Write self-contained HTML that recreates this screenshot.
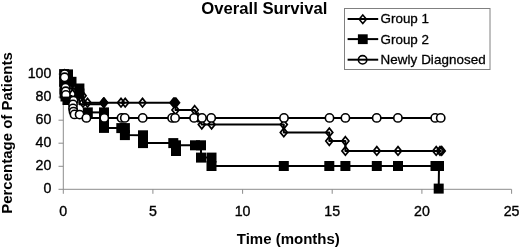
<!DOCTYPE html>
<html><head><meta charset="utf-8"><style>
html,body{margin:0;padding:0;background:#fff;width:520px;height:248px;overflow:hidden}
svg{display:block;will-change:transform}
</style></head><body>
<svg width="520" height="248" viewBox="0 0 520 248">
<g stroke="#8c8c8c" stroke-width="1" fill="none">
<path d="M63.3 74V189.3M58.5 189.3H511.5"/>
<path d="M58.5 74.1H63.3"/>
<path d="M58.5 97.1H63.3"/>
<path d="M58.5 120.2H63.3"/>
<path d="M58.5 143.2H63.3"/>
<path d="M58.5 166.3H63.3"/>
<path d="M63.3 189.3V193.8"/>
<path d="M152.9 189.3V193.8"/>
<path d="M242.6 189.3V193.8"/>
<path d="M332.2 189.3V193.8"/>
<path d="M421.9 189.3V193.8"/>
<path d="M511.6 189.3V193.8"/>
</g>
<g font-family="Liberation Sans, sans-serif" fill="#000">
<text x="264.3" y="13.9" font-size="16.7" font-weight="bold" text-anchor="middle">Overall Survival</text>
<text x="51.4" y="78.2" font-size="14.2" text-anchor="end" stroke="#000" stroke-width="0.35">100</text>
<text x="51.4" y="101.2" font-size="14.2" text-anchor="end" stroke="#000" stroke-width="0.35">80</text>
<text x="51.4" y="124.3" font-size="14.2" text-anchor="end" stroke="#000" stroke-width="0.35">60</text>
<text x="51.4" y="147.3" font-size="14.2" text-anchor="end" stroke="#000" stroke-width="0.35">40</text>
<text x="51.4" y="170.4" font-size="14.2" text-anchor="end" stroke="#000" stroke-width="0.35">20</text>
<text x="51.4" y="193.4" font-size="14.2" text-anchor="end" stroke="#000" stroke-width="0.35">0</text>
<text x="63.3" y="215.6" font-size="14.2" text-anchor="middle" stroke="#000" stroke-width="0.35">0</text>
<text x="152.9" y="215.6" font-size="14.2" text-anchor="middle" stroke="#000" stroke-width="0.35">5</text>
<text x="242.6" y="215.6" font-size="14.2" text-anchor="middle" stroke="#000" stroke-width="0.35">10</text>
<text x="332.2" y="215.6" font-size="14.2" text-anchor="middle" stroke="#000" stroke-width="0.35">15</text>
<text x="421.9" y="215.6" font-size="14.2" text-anchor="middle" stroke="#000" stroke-width="0.35">20</text>
<text x="511.6" y="215.6" font-size="14.2" text-anchor="middle" stroke="#000" stroke-width="0.35">25</text>
<text x="288.3" y="244.3" font-size="15" font-weight="bold" text-anchor="middle">Time (months)</text>
<text transform="translate(12.2 133.0) rotate(-90)" font-size="15" font-weight="bold" text-anchor="middle">Percentage of Patients</text>
</g>
<g fill="none" stroke="#000" stroke-width="2" stroke-linejoin="round">
<polyline points="64.5,74.1 64.8,81.3 68.0,81.3 70.0,88.5 75.0,88.5 78.0,95.7 82.6,95.7 83.0,102.7 87.5,102.7 103.4,102.7 104.2,102.7 121.0,102.7 125.2,102.7 142.5,102.7 173.5,102.7 175.0,102.7 176.0,102.7 175.5,110.0 194.7,110.0 198.0,117.3 201.8,124.6 211.6,124.6 283.8,124.6 283.8,132.4 329.3,132.4 329.3,141.0 345.4,141.0 345.4,150.9 376.8,150.9 398.0,150.9 436.2,150.9 440.0,150.9 441.7,150.9"/>
<polyline points="64.7,74.1 64.6,77.3 65.5,87.7 65.7,91.3 65.9,94.9 73.5,100.6 73.0,104.4 73.0,108.4 73.5,111.6 74.5,114.4 79.6,114.6 86.4,117.9 104.3,117.9 121.5,117.9 124.8,117.9 142.7,117.9 172.1,117.9 175.1,117.9 194.1,117.9 202.0,117.9 211.2,117.9 284.0,117.9 329.5,117.9 345.4,117.9 376.7,117.9 397.9,117.9 435.2,117.9 440.7,117.9"/>
<polyline points="64.1,74.1 68.0,74.4 64.1,81.8 64.5,89.5 64.6,93.5 71.5,81.8 79.4,88.5 79.4,93.5 79.4,104.3 104.0,104.3 104.0,112.4 104.0,120.2 104.0,127.9 121.3,128.1 124.9,128.1 124.9,135.1 143.0,135.3 143.0,143.1 173.3,143.1 176.0,151.0 176.0,145.3 195.0,145.3 201.0,145.3 201.0,157.6 211.5,157.6 211.5,166.0 283.8,166.0 329.3,166.0 345.4,166.0 376.8,166.0 398.0,166.0 435.5,166.0 439.0,166.0 438.7,188.6"/>
<polyline points="87.8,112.4 104.0,112.4"/>
</g>
<g fill="#000" stroke="none">
<rect x="59.1" y="69.1" width="10" height="10"/>
<rect x="63.0" y="69.4" width="10" height="10"/>
<rect x="59.1" y="76.8" width="10" height="10"/>
<rect x="59.5" y="84.5" width="10" height="10"/>
<rect x="59.6" y="88.5" width="10" height="10"/>
<rect x="66.5" y="76.8" width="10" height="10"/>
<rect x="74.4" y="83.5" width="10" height="10"/>
<rect x="74.4" y="88.5" width="10" height="10"/>
<rect x="99.0" y="107.4" width="10" height="10"/>
<rect x="99.0" y="115.2" width="10" height="10"/>
<rect x="99.0" y="122.9" width="10" height="10"/>
<rect x="116.3" y="123.1" width="10" height="10"/>
<rect x="119.9" y="123.1" width="10" height="10"/>
<rect x="119.9" y="130.1" width="10" height="10"/>
<rect x="138.0" y="130.3" width="10" height="10"/>
<rect x="138.0" y="138.1" width="10" height="10"/>
<rect x="168.3" y="138.1" width="10" height="10"/>
<rect x="171.0" y="146.0" width="10" height="10"/>
<rect x="171.0" y="140.3" width="10" height="10"/>
<rect x="190.0" y="140.3" width="10" height="10"/>
<rect x="196.0" y="140.3" width="10" height="10"/>
<rect x="196.0" y="152.6" width="10" height="10"/>
<rect x="206.5" y="152.6" width="10" height="10"/>
<rect x="206.5" y="161.0" width="10" height="10"/>
<rect x="278.8" y="161.0" width="10" height="10"/>
<rect x="324.3" y="161.0" width="10" height="10"/>
<rect x="340.4" y="161.0" width="10" height="10"/>
<rect x="371.8" y="161.0" width="10" height="10"/>
<rect x="393.0" y="161.0" width="10" height="10"/>
<rect x="430.5" y="161.0" width="10" height="10"/>
<rect x="434.0" y="161.0" width="10" height="10"/>
<rect x="433.7" y="183.6" width="10" height="10"/>
<rect x="82.8" y="107.4" width="10" height="10"/>
<rect x="62.5" y="95.0" width="10" height="10"/>
</g>
<g fill="none" stroke="#000" stroke-width="1.7">
<path d="M64.5 69.8L68.0 74.1L64.5 78.4L61.0 74.1Z"/>
<path d="M64.8 77.0L68.3 81.3L64.8 85.6L61.3 81.3Z"/>
<path d="M68.0 77.0L71.5 81.3L68.0 85.6L64.5 81.3Z"/>
<path d="M70.0 84.2L73.5 88.5L70.0 92.8L66.5 88.5Z"/>
<path d="M75.0 84.2L78.5 88.5L75.0 92.8L71.5 88.5Z"/>
<path d="M78.0 91.4L81.5 95.7L78.0 100.0L74.5 95.7Z"/>
<path d="M82.6 91.4L86.1 95.7L82.6 100.0L79.1 95.7Z"/>
<path d="M83.0 98.4L86.5 102.7L83.0 107.0L79.5 102.7Z"/>
<path d="M87.5 98.4L91.0 102.7L87.5 107.0L84.0 102.7Z"/>
<path d="M103.4 98.4L106.9 102.7L103.4 107.0L99.9 102.7Z"/>
<path d="M104.2 98.4L107.7 102.7L104.2 107.0L100.7 102.7Z"/>
<path d="M121.0 98.4L124.5 102.7L121.0 107.0L117.5 102.7Z"/>
<path d="M125.2 98.4L128.7 102.7L125.2 107.0L121.7 102.7Z"/>
<path d="M142.5 98.4L146.0 102.7L142.5 107.0L139.0 102.7Z"/>
<path d="M173.5 98.4L177.0 102.7L173.5 107.0L170.0 102.7Z"/>
<path d="M175.0 98.4L178.5 102.7L175.0 107.0L171.5 102.7Z"/>
<path d="M176.0 98.4L179.5 102.7L176.0 107.0L172.5 102.7Z"/>
<path d="M175.5 105.7L179.0 110.0L175.5 114.3L172.0 110.0Z"/>
<path d="M194.7 105.7L198.2 110.0L194.7 114.3L191.2 110.0Z"/>
<path d="M198.0 113.0L201.5 117.3L198.0 121.6L194.5 117.3Z"/>
<path d="M201.8 120.3L205.3 124.6L201.8 128.9L198.3 124.6Z"/>
<path d="M211.6 120.3L215.1 124.6L211.6 128.9L208.1 124.6Z"/>
<path d="M283.8 120.3L287.3 124.6L283.8 128.9L280.3 124.6Z"/>
<path d="M283.8 128.1L287.3 132.4L283.8 136.7L280.3 132.4Z"/>
<path d="M329.3 128.1L332.8 132.4L329.3 136.7L325.8 132.4Z"/>
<path d="M329.3 136.7L332.8 141.0L329.3 145.3L325.8 141.0Z"/>
<path d="M345.4 136.7L348.9 141.0L345.4 145.3L341.9 141.0Z"/>
<path d="M345.4 146.6L348.9 150.9L345.4 155.2L341.9 150.9Z"/>
<path d="M376.8 146.6L380.3 150.9L376.8 155.2L373.3 150.9Z"/>
<path d="M398.0 146.6L401.5 150.9L398.0 155.2L394.5 150.9Z"/>
<path d="M436.2 146.6L439.7 150.9L436.2 155.2L432.7 150.9Z"/>
<path d="M440.0 146.6L443.5 150.9L440.0 155.2L436.5 150.9Z"/>
<path d="M441.7 146.6L445.2 150.9L441.7 155.2L438.2 150.9Z"/>
</g>
<g fill="#000" stroke="#000" stroke-width="1.7">
<path d="M103.8 98.4L107.3 102.7L103.8 107.0L100.3 102.7Z"/>
<path d="M174.8 98.4L178.3 102.7L174.8 107.0L171.3 102.7Z"/>
</g>
<g fill="#fff" stroke="#000" stroke-width="1.6">
<circle cx="64.7" cy="74.1" r="4.15"/>
<circle cx="65.5" cy="87.7" r="4.15"/>
<circle cx="65.7" cy="91.3" r="4.15"/>
<circle cx="65.9" cy="94.9" r="4.15"/>
<circle cx="73.5" cy="100.6" r="4.15"/>
<circle cx="64.6" cy="77.3" r="4.15"/>
<circle cx="73.0" cy="104.4" r="4.15"/>
<circle cx="73.0" cy="108.4" r="4.15"/>
<circle cx="73.5" cy="111.6" r="4.15"/>
<circle cx="74.5" cy="114.4" r="4.15"/>
<circle cx="79.6" cy="114.6" r="4.15"/>
<circle cx="86.4" cy="117.9" r="4.15"/>
<circle cx="104.3" cy="117.9" r="4.15"/>
<circle cx="121.5" cy="117.9" r="4.15"/>
<circle cx="124.8" cy="117.9" r="4.15"/>
<circle cx="142.7" cy="117.9" r="4.15"/>
<circle cx="172.1" cy="117.9" r="4.15"/>
<circle cx="175.1" cy="117.9" r="4.15"/>
<circle cx="194.1" cy="117.9" r="4.15"/>
<circle cx="202.0" cy="117.9" r="4.15"/>
<circle cx="211.2" cy="117.9" r="4.15"/>
<circle cx="284.0" cy="117.9" r="4.15"/>
<circle cx="329.5" cy="117.9" r="4.15"/>
<circle cx="345.4" cy="117.9" r="4.15"/>
<circle cx="376.7" cy="117.9" r="4.15"/>
<circle cx="397.9" cy="117.9" r="4.15"/>
<circle cx="435.2" cy="117.9" r="4.15"/>
<circle cx="440.7" cy="117.9" r="4.15"/>
</g>
<g fill="#000"><path d="M60.5 96.6H70.5V101.5H60.5Z"/></g>
<rect x="344.5" y="8.5" width="145.5" height="61" fill="#fff" stroke="#808080" stroke-width="1"/>
<g stroke="#000" stroke-width="2" fill="none">
<path d="M347.6 19H378.2"/>
<path d="M347.6 39.1H378.2"/>
<path d="M347.6 59.7H378.2"/>
</g>
<g fill="none" stroke="#000" stroke-width="1.6"><path d="M362.8 15.0L366.4 19.3L362.8 23.6L359.2 19.3Z"/></g>
<g fill="#000"><rect x="357.9" y="34.3" width="9.8" height="9.8"/></g>
<g fill="none" stroke="#000" stroke-width="1.6"><circle cx="362.6" cy="59.8" r="4.2"/></g>
<g font-family="Liberation Sans, sans-serif" font-size="13.4" fill="#000" stroke="#000" stroke-width="0.3">
<text x="380.6" y="23.0" letter-spacing="0">Group 1</text>
<text x="380.6" y="43.5" letter-spacing="0">Group 2</text>
<text x="380.6" y="63.9" letter-spacing="0.06">Newly Diagnosed</text>
</g>
</svg>
</body></html>
